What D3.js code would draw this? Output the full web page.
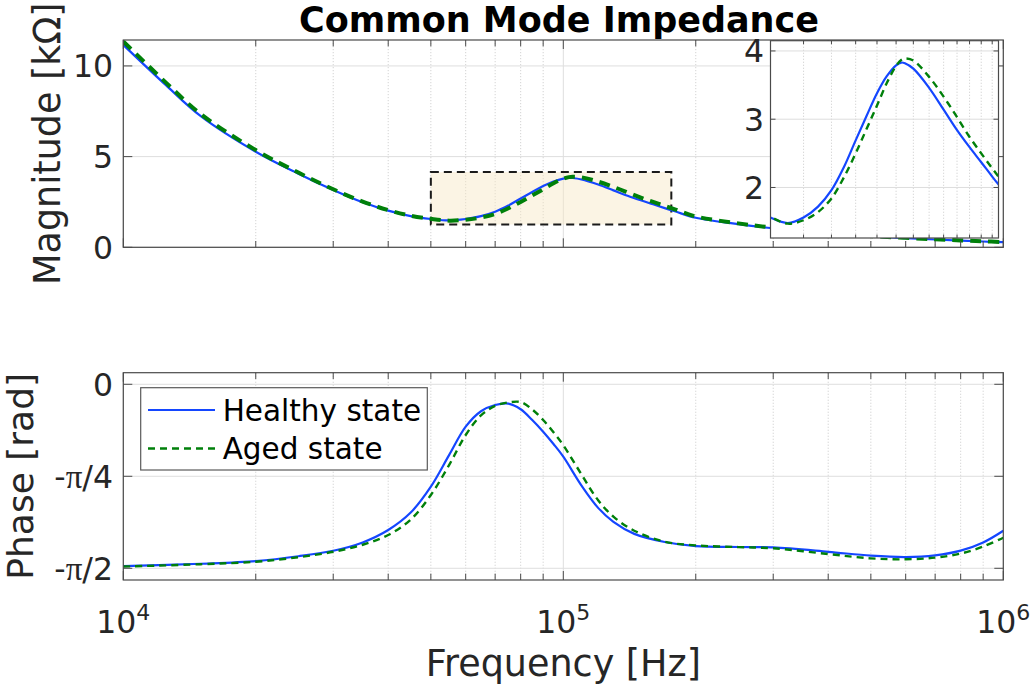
<!DOCTYPE html>
<meta charset="utf-8">
<title>Common Mode Impedance</title>
<script src="https://d3js.org/d3.v7.min.js"></script>
<style>
  body { margin: 0; background: #fff; }
  text { font-family: "DejaVu Sans", sans-serif; fill: #262626; }
</style>
<body>
<div id="my_dataviz"></div>
<script>

// ---- data ----
// magnitude, kOhm
var magFreq = [1e4, 1.25e4, 1.5e4, 2e4, 2.5e4, 3e4, 3.5e4, 4e4, 4.5e4, 5e4, 5.5e4, 6e4, 6.5e4, 7e4, 7.5e4,
  8e4, 8.5e4, 9e4, 9.5e4, 1e5, 1.03e5, 1.05e5, 1.1e5, 1.2e5, 1.3e5, 1.4e5, 1.5e5, 1.6e5, 1.7e5, 1.8e5,
  2e5, 2.5e5, 3e5, 4e5, 5e5, 6e5, 7e5, 8e5, 9e5, 1e6];
var magHealthy = [11.16, 8.94, 7.23, 5.27, 4.06, 3.16, 2.48, 2.02, 1.72, 1.56, 1.48, 1.56, 1.72, 1.96, 2.30,
  2.69, 3.05, 3.38, 3.63, 3.79, 3.83, 3.82, 3.74, 3.46, 3.14, 2.84, 2.59, 2.37, 2.16, 1.97,
  1.63, 1.28, 1.05, 0.78, 0.6, 0.5, 0.43, 0.37, 0.32, 0.28];
var magAged = [11.35, 9.08, 7.35, 5.36, 4.12, 3.2, 2.52, 2.05, 1.74, 1.57, 1.47, 1.52, 1.64, 1.84, 2.15,
  2.5, 2.86, 3.2, 3.53, 3.78, 3.87, 3.89, 3.86, 3.62, 3.33, 3.03, 2.74, 2.5, 2.28, 2.08,
  1.7, 1.32, 1.08, 0.8, 0.62, 0.52, 0.44, 0.38, 0.33, 0.29];

// phase, rad
var phFreq = [1e4, 1.5e4, 2e4, 2.5e4, 3e4, 3.5e4, 4e4, 4.5e4, 5e4, 5.5e4, 6e4, 6.5e4, 7e4, 7.5e4, 8e4,
  8.5e4, 9e4, 9.5e4, 1e5, 1.1e5, 1.2e5, 1.3e5, 1.45e5, 1.7e5, 2e5, 2.5e5, 3e5, 4e5, 5e5, 6e5, 7e5,
  8e5, 9e5, 1e6];
var phHealthy = [-1.553, -1.532, -1.509, -1.468, -1.421, -1.35, -1.244, -1.095, -0.874, -0.605, -0.362, -0.23,
  -0.177, -0.165, -0.213, -0.305, -0.405, -0.51, -0.618, -0.865, -1.055, -1.175, -1.277, -1.346, -1.381,
  -1.389, -1.393, -1.43, -1.463, -1.475, -1.46, -1.42, -1.35, -1.25];
var phAged = [-1.556, -1.536, -1.515, -1.476, -1.43, -1.37, -1.287, -1.155, -0.945, -0.69, -0.433, -0.265,
  -0.185, -0.155, -0.152, -0.215, -0.305, -0.41, -0.52, -0.77, -0.99, -1.13, -1.25, -1.344, -1.375,
  -1.39, -1.40, -1.449, -1.486, -1.494, -1.48, -1.445, -1.385, -1.31];

var seriesNames = ["Healthy state", "Aged state"];
var magTicks = [0, 5, 10];
var phTicks = [0, -Math.PI / 4, -Math.PI / 2];
var phTickLabels = ["0", "-π/4", "-π/2"];
var decadeTicks = [1e4, 1e5, 1e6];
var decadeLabels = ["4", "5", "6"];
// zoomed region (inset)
var zoomFreq = [5e4, 1.76e5];
var zoomMag = [1.26, 4.15];
var insetYTicks = [2, 3, 4];
var insetXTicks = [6e4, 7e4, 8e4, 9e4, 1e5, 1.1e5, 1.2e5, 1.3e5, 1.4e5, 1.5e5, 1.6e5, 1.7e5];

var blue = "#1446ff", green = "#00800a", axisCol = "#4a4a4a";

var svg = d3.select("#my_dataviz").append("svg")
  .attr("width", 1033).attr("height", 685);

// scales
var x = d3.scaleLog().domain([1e4, 1e6]).range([123.3, 1003.3]);
var yMag = d3.scaleLinear().domain([0, 11.43]).range([247.3, 40]);
var yPh = d3.scaleLinear().domain([-Math.PI / 2 - 0.1, 0.099]).range([580, 372.7]);
var xIn = d3.scaleLog().domain(zoomFreq).range([770.5, 998.5]);
var yIn = d3.scaleLinear().domain(zoomMag).range([238, 40.7]);

var minorX = x.ticks().filter(function(d) { return decadeTicks.indexOf(d) < 0; });

function clip(id, xs, ys) {
  svg.append("defs").append("clipPath").attr("id", id)
    .append("rect")
    .attr("x", xs.range()[0]).attr("y", ys.range()[1])
    .attr("width", xs.range()[1] - xs.range()[0])
    .attr("height", ys.range()[0] - ys.range()[1]);
}

// background + grid of one axes
function frame(g, xs, ys, xMajor, xMinor, yVals) {
  var xl = xs.range()[0], xr = xs.range()[1], yb = ys.range()[0], yt = ys.range()[1];
  g.append("rect").attr("x", xl).attr("y", yt).attr("width", xr - xl).attr("height", yb - yt)
    .attr("fill", "#fff");
  g.selectAll(".gminor").data(xMinor).enter().append("line")
    .attr("x1", xs).attr("x2", xs).attr("y1", yt).attr("y2", yb)
    .attr("stroke", "#c8c8c8").attr("stroke-width", 0.8).attr("stroke-dasharray", "1.2,1.8");
  g.selectAll(".gmajor").data(xMajor).enter().append("line")
    .attr("x1", xs).attr("x2", xs).attr("y1", yt).attr("y2", yb)
    .attr("stroke", "#dedede").attr("stroke-width", 1);
  g.selectAll(".gy").data(yVals).enter().append("line")
    .attr("x1", xl).attr("x2", xr).attr("y1", ys).attr("y2", ys)
    .attr("stroke", "#dedede").attr("stroke-width", 1);
}
// box and inward ticks
function box(g, xs, ys, xMajor, xMinor, yVals, tl) {
  var xl = xs.range()[0], xr = xs.range()[1], yb = ys.range()[0], yt = ys.range()[1];
  g.append("rect").attr("x", xl).attr("y", yt).attr("width", xr - xl).attr("height", yb - yt)
    .attr("fill", "none").attr("stroke", axisCol).attr("stroke-width", 1.2);
  var all = xMajor.map(function(d) { return [d, tl]; }).concat(xMinor.map(function(d) { return [d, tl * 0.7]; }));
  all.forEach(function(t) {
    g.append("line").attr("x1", xs(t[0])).attr("x2", xs(t[0])).attr("y1", yb).attr("y2", yb - t[1])
      .attr("stroke", axisCol);
    g.append("line").attr("x1", xs(t[0])).attr("x2", xs(t[0])).attr("y1", yt).attr("y2", yt + t[1])
      .attr("stroke", axisCol);
  });
  yVals.forEach(function(v) {
    g.append("line").attr("x1", xl).attr("x2", xl + tl).attr("y1", ys(v)).attr("y2", ys(v)).attr("stroke", axisCol);
    g.append("line").attr("x1", xr).attr("x2", xr - tl).attr("y1", ys(v)).attr("y2", ys(v)).attr("stroke", axisCol);
  });
}

function curve(g, xs, ys, fr, vals, color, w, dash, clipId) {
  var pts = fr.map(function(f, i) { return [f, vals[i]]; });
  g.append("path").datum(pts)
    .attr("clip-path", "url(#" + clipId + ")")
    .attr("fill", "none").attr("stroke", color).attr("stroke-width", w)
    .attr("stroke-dasharray", dash)
    .attr("d", d3.line().curve(d3.curveCatmullRom.alpha(0.5))
      .x(function(d) { return xs(d[0]); })
      .y(function(d) { return ys(d[1]); }));
}

clip("clipMag", x, yMag);
clip("clipPh", x, yPh);
clip("clipIn", xIn, yIn);

// ---------- magnitude ----------
var gMag = svg.append("g");
frame(gMag, x, yMag, decadeTicks, minorX, magTicks);

// zoom rectangle
gMag.append("rect")
  .attr("x", x(zoomFreq[0])).attr("y", yMag(zoomMag[1]))
  .attr("width", x(zoomFreq[1]) - x(zoomFreq[0]))
  .attr("height", yMag(zoomMag[0]) - yMag(zoomMag[1]))
  .attr("fill", "#f7e6c4").attr("fill-opacity", 0.45)
  .attr("stroke", "#1a1a1a").attr("stroke-width", 2).attr("stroke-dasharray", "8,5");

curve(gMag, x, yMag, magFreq, magHealthy, blue, 2.2, null, "clipMag");
curve(gMag, x, yMag, magFreq, magAged, green, 4, "11,7", "clipMag");
box(gMag, x, yMag, decadeTicks, minorX, magTicks, 9);

gMag.selectAll(".ylab").data(magTicks).enter().append("text")
  .attr("x", 113).attr("y", yMag).attr("dy", "0.36em")
  .attr("text-anchor", "end").style("font-size", "31.5px")
  .text(function(d) { return d; });

svg.append("text").attr("transform", "translate(60,143.7) rotate(-90)")
  .attr("text-anchor", "middle").style("font-size", "36.5px")
  .text("Magnitude [kΩ]");

svg.append("text").attr("x", 559).attr("y", 32)
  .attr("text-anchor", "middle").style("font-size", "35px").style("font-weight", "bold")
  .style("fill", "#000")
  .text("Common Mode Impedance");

// ---------- inset ----------
var gIn = svg.append("g");
frame(gIn, xIn, yIn, [], insetXTicks, insetYTicks);
curve(gIn, xIn, yIn, magFreq, magHealthy, blue, 2.2, null, "clipIn");
curve(gIn, xIn, yIn, magFreq, magAged, green, 2.4, "7,5", "clipIn");
box(gIn, xIn, yIn, [], insetXTicks, insetYTicks, 5);
gIn.selectAll(".ilab").data(insetYTicks).enter().append("text")
  .attr("x", 764).attr("y", yIn).attr("dy", "0.36em")
  .attr("text-anchor", "end").style("font-size", "31.5px")
  .text(function(d) { return d; });

// ---------- phase ----------
var gPh = svg.append("g");
frame(gPh, x, yPh, decadeTicks, minorX, phTicks);
curve(gPh, x, yPh, phFreq, phHealthy, blue, 2.2, null, "clipPh");
curve(gPh, x, yPh, phFreq, phAged, green, 2.4, "7,5", "clipPh");
box(gPh, x, yPh, decadeTicks, minorX, phTicks, 9);

phTicks.forEach(function(v, i) {
  var t = gPh.append("text").attr("x", 113).attr("y", yPh(v)).attr("dy", "0.36em")
    .attr("text-anchor", "end").style("font-size", "31.5px");
  var lab = phTickLabels[i];
  if (lab.indexOf("π") < 0) { t.text(lab); return; }
  var parts = lab.split("π");
  t.append("tspan").text(parts[0]);
  t.append("tspan").style("font-family", "'Liberation Serif', serif").style("font-size", "33px").text("π");
  t.append("tspan").text(parts[1]);
});

decadeTicks.forEach(function(v, i) {
  var t = svg.append("text").attr("x", x(v)).attr("y", 633)
    .attr("text-anchor", "middle").style("font-size", "31.5px");
  t.append("tspan").text("10");
  t.append("tspan").attr("dy", -13).style("font-size", "22px").text(decadeLabels[i]);
});

svg.append("text").attr("transform", "translate(33,476.3) rotate(-90)")
  .attr("text-anchor", "middle").style("font-size", "36px")
  .text("Phase [rad]");

svg.append("text").attr("x", 563.3).attr("y", 676)
  .attr("text-anchor", "middle").style("font-size", "36.5px")
  .text("Frequency [Hz]");

// legend
var leg = svg.append("g");
leg.append("rect").attr("x", 140.7).attr("y", 387.7).attr("width", 286.6).attr("height", 82.3)
  .attr("fill", "#fff").attr("stroke", "#5a5a5a").attr("stroke-width", 1.2);
var legRows = [{c: blue, d: null, w: 2.2, y: 410}, {c: green, d: "7,5", w: 2.4, y: 448.5}];
legRows.forEach(function(r, i) {
  leg.append("line").attr("x1", 148).attr("x2", 215).attr("y1", r.y).attr("y2", r.y)
    .attr("stroke", r.c).attr("stroke-width", r.w).attr("stroke-dasharray", r.d);
  leg.append("text").attr("x", 222.7).attr("y", r.y).attr("dy", "0.36em")
    .style("font-size", "29.5px").style("fill", "#000").text(seriesNames[i]);
});

</script>
</body>
